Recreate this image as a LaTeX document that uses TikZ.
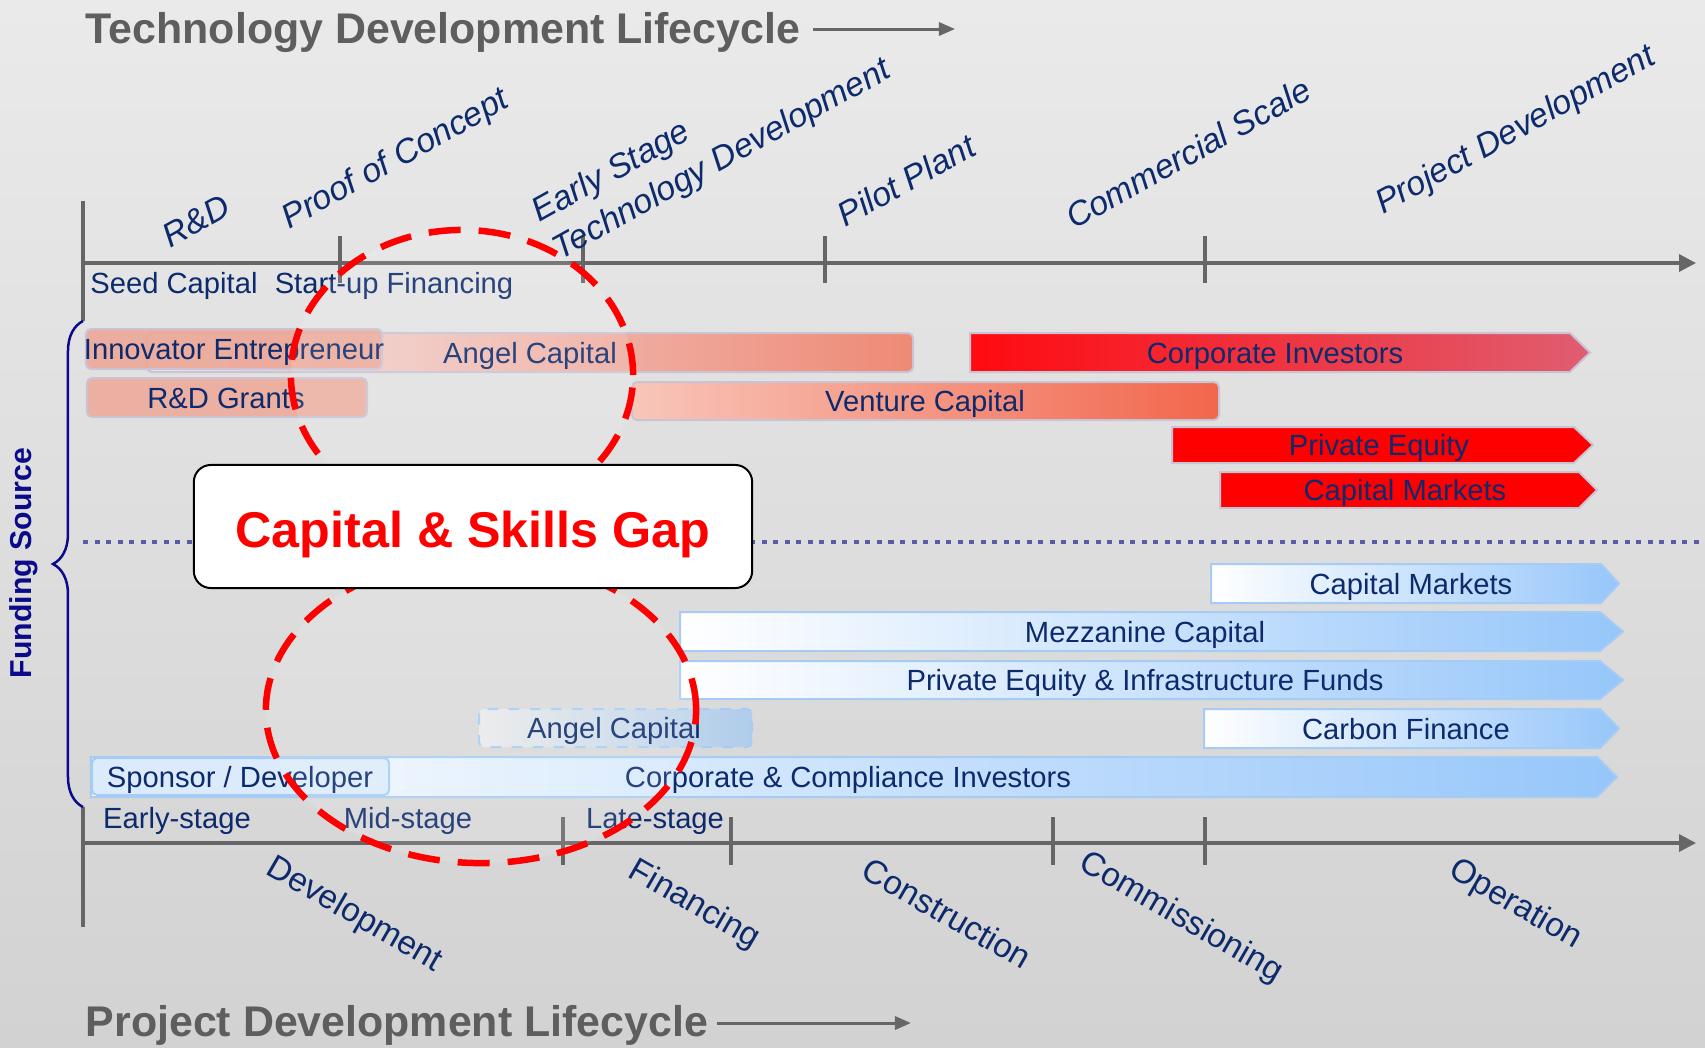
\documentclass[tikz,border=0pt]{standalone}
\usepackage{fontspec}
\setmainfont{Liberation Sans}
\usepackage{tikz}
\usetikzlibrary{
	decorations.pathreplacing,		% Curly brace along the funding sources
	positioning,					% Relative positioning
	shapes.geometric,				% Ellipses marking the gap
	arrows.meta,					% Advanced arrows
	calc							% Calculate point coordinates
}
\definecolor{navytext}{HTML}{0C2A6C}
\definecolor{axisgray}{HTML}{666666}
\definecolor{titlegray}{HTML}{5E5E5E}
\definecolor{bgtop}{HTML}{EAEAEA}
\definecolor{bgbottom}{HTML}{D2D2D2}
\definecolor{salmon}{HTML}{EBA898}
\definecolor{salmongrant}{HTML}{EBB0A2}
\definecolor{salmondark}{HTML}{EE8A76}
\definecolor{pinklight}{HTML}{F2E4E4}
\definecolor{venturelight}{HTML}{F8C6BA}
\definecolor{venturedark}{HTML}{F2664C}
\definecolor{corpred}{HTML}{FF0A10}
\definecolor{corppink}{HTML}{DF5E70}
\definecolor{barred}{HTML}{FF0000}
\definecolor{redborder}{HTML}{C9C3D3}
\definecolor{bluedark}{HTML}{96C6FA}
\definecolor{blueborder}{HTML}{A6CCF4}
\definecolor{sponsorblue}{HTML}{DCEBFB}
\definecolor{angelgray}{HTML}{EAEAEA}
\definecolor{angelblue}{HTML}{B0CDEB}
\definecolor{gapred}{HTML}{FF0000}
\definecolor{bracenavy}{HTML}{0B0B8A}
\definecolor{dotblue}{HTML}{5A5AA6}

\begin{document}
\begin{tikzpicture}[x=0.01cm, y=-0.01cm]
		\tikzstyle{axisline} = [draw=axisgray, line width=0.034cm]
		\tikzstyle{axisarrow} = [axisline, -{Triangle[length=0.17cm, width=0.17cm]}]
		\tikzstyle{titletext} = [inner sep=0, text=titlegray, font=\fontsize{12.2}{14}\selectfont\bfseries]
		\tikzstyle{titlearrow} = [draw=axisgray, line width=0.03cm, -{Triangle[length=0.16cm, width=0.13cm]}]
		\tikzstyle{stagetext} = [inner sep=0, text=navytext, font=\fontsize{9.6}{12.2}\selectfont\itshape, rotate=29]
		\tikzstyle{phasetext} = [inner sep=0, text=navytext, font=\fontsize{9.5}{11}\selectfont, rotate=-30]
		\tikzstyle{bartext} = [inner sep=0, text=navytext, font=\fontsize{8.3}{10}\selectfont, text height=6pt, text depth=1.7pt]
		\tikzstyle{redbar} = [draw=redborder, line width=0.02cm]
		\tikzstyle{bluebar} = [draw=blueborder, line width=0.02cm, left color=white, right color=bluedark]
		\tikzstyle{gapring} = [ellipse, draw=gapred, line width=0.065cm, dash pattern=on 0.32cm off 0.18cm, fill=white, fill opacity=0.12, inner sep=0]
		\tikzstyle{gapbox} = [draw=black, fill=white, rounded corners=0.17cm, line width=0.02cm, minimum width=5.58cm, minimum height=1.23cm, inner sep=0, text=gapred, font=\fontsize{14.3}{16}\selectfont\bfseries, text height=11.7pt, text depth=0pt]
		
		% Background
		\useasboundingbox (0,0) rectangle (1705,1047);
		\shade[top color=bgtop, bottom color=bgbottom] (0,0) rectangle (1705,1047);
		
		% Technology axis
		\coordinate (techCorner) at (83,201);
		\coordinate (fundTop) at (83,321);
		\coordinate (techStart) at (83,263);
		\coordinate (techEnd) at (1696,263);
		\draw[axisline] (techCorner) -- (fundTop);
		\draw[axisarrow] (techStart) -- (techEnd);
		\foreach \tx in {340, 583, 825, 1205}{
			\draw[axisline] (\tx,236) -- (\tx,283);
		}
		%% Title
		\node[titletext, anchor=base west] (techTitle) at (85,43) {Technology Development Lifecycle};
		\coordinate (techArrowEnd) at (955,29);
		\draw[titlearrow, shorten <=0.12cm] (techTitle.east |- techArrowEnd) -- (techArrowEnd);
		%% Stages
		\node[stagetext] (stageRD) at (196,221) {R\&D};
		\node[stagetext] (stageProof) at (396,160) {Proof of Concept};
		\node[stagetext, align=left] (stageEarly) at (712,142) {Early Stage\\Technology Development};
		\node[stagetext] (stagePilot) at (906,180) {Pilot Plant};
		\node[stagetext] (stageCommercial) at (1188,153) {Commercial Scale};
		\node[stagetext] (stageProject) at (1516,131) {Project Development};
		%% Financing rounds
		\node[bartext] (seedCapital) at (174,286) {Seed Capital};
		\node[bartext] (startupFin) at (394,286) {Start-up Financing};
		
		% Project axis
		\coordinate (fundBottom) at (83,807);
		\coordinate (projCorner) at (83,927);
		\coordinate (projStart) at (83,843);
		\coordinate (projEnd) at (1696,843);
		\draw[axisline] (fundBottom) -- (projCorner);
		\draw[axisarrow] (projStart) -- (projEnd);
		\foreach \tx in {563, 731, 1053, 1205}{
			\draw[axisline] (\tx,817) -- (\tx,865);
		}
		%% Title
		\node[titletext, anchor=base west] (projTitle) at (85,1036) {Project Development Lifecycle};
		\coordinate (projArrowEnd) at (911,1023);
		\draw[titlearrow, shorten <=0.08cm] (projTitle.east |- projArrowEnd) -- (projArrowEnd);
		%% Phases
		\node[phasetext] (phaseDev) at (354,915) {Development};
		\node[phasetext] (phaseFin) at (694,905) {Financing};
		\node[phasetext] (phaseCons) at (947,913) {Construction};
		\node[phasetext] (phaseComm) at (1181,918) {Commissioning};
		\node[phasetext] (phaseOp) at (1515,905) {Operation};
		%% Stage of the project
		\node[bartext] (earlyStage) at (177,821) {Early-stage};
		\node[bartext] (midStage) at (408,821) {Mid-stage};
		\node[bartext] (lateStage) at (655,821) {Late-stage};
		
		% Technology funding (red)
		\path[redbar, rounded corners=0.05cm, left color=pinklight, right color=salmondark] (147,333) rectangle (913,372);
		\node[bartext] (angelTop) at (530,356) {Angel Capital};
		\path[redbar, rounded corners=0.05cm, fill=salmon, fill opacity=0.9] (86,329) rectangle (382,369);
		\node[bartext] (innovator) at (234,352) {Innovator Entrepreneur};
		\path[redbar, rounded corners=0.05cm, fill=salmongrant] (87,378) rectangle (367,417);
		\node[bartext] (rdGrants) at (226,401) {R\&D Grants};
		\path[redbar, rounded corners=0.05cm, left color=venturelight, right color=venturedark] (632,382) rectangle (1219,420);
		\node[bartext] (venture) at (925,404) {Venture Capital};
		\path[redbar, left color=corpred, right color=corppink] (970,333) -- (1570,333) -- (1590,352.5) -- (1570,372) -- (970,372) -- cycle;
		\node[bartext] (corpInvestors) at (1275,356) {Corporate Investors};
		\foreach \xa/\xb/\xc/\ya/\yb/\xl/\nm/\txt in {1172/1574/1593/427/463/1379/privateEquity/Private Equity, 1220/1579/1597/472/508/1405/capMarketsTop/Capital Markets}{
			\path[redbar, fill=barred] (\xa,\ya) -- (\xb,\ya) -- (\xc,{(\ya+\yb)/2}) -- (\xb,\yb) -- (\xa,\yb) -- cycle;
			\node[bartext] (\nm) at (\xl,{(\ya+\yb)/2+3}) {\txt};
		}
		
		% Divider
		\coordinate (dividerLeft) at (83,542);
		\coordinate (dividerRight) at (1705,542);
		\draw[dotblue, line width=0.035cm, dash pattern=on 0.05cm off 0.065cm] (dividerLeft) -- (dividerRight);
		
		% Project funding (blue)
		\foreach \xa/\xb/\xc/\ya/\yb/\xl/\nm/\txt in {1211/1601/1619/564/603/1411/capMarkets/Capital Markets, 680/1600/1623/612/651/1145/mezzanine/Mezzanine Capital, 680/1600/1623/661/699/1145/peInfra/Private Equity \& Infrastructure Funds, 1204/1600/1619/709/748/1406/carbon/Carbon Finance, 91/1597/1617/757/797/848/corpCompliance/Corporate \& Compliance Investors}{
			\path[bluebar] (\xa,\ya) -- (\xb,\ya) -- (\xc,{(\ya+\yb)/2}) -- (\xb,\yb) -- (\xa,\yb) -- cycle;
			\node[bartext] (\nm) at (\xl,{(\ya+\yb)/2+3}) {\txt};
		}
		\path[draw=blueborder, line width=0.02cm, rounded corners=0.05cm, fill=sponsorblue] (92,758) rectangle (389,795);
		\node[bartext] (sponsor) at (240,780) {Sponsor / Developer};
		\path[draw=blueborder, line width=0.02cm, dashed, rounded corners=0.05cm, left color=angelgray, right color=angelblue] (479,709) rectangle (752,747);
		\node[bartext] (angelLow) at (614,731) {Angel Capital};
		
		% Funding source
		\draw[bracenavy, line width=0.025cm, decorate, decoration={brace, amplitude=0.3cm}] (fundBottom) -- (fundTop);
		\node[inner sep=0, text=bracenavy, font=\fontsize{8.6}{10}\selectfont\bfseries, rotate=90] (fundLabel) at (24,563) {Funding Source};
		
		% Capital and skills gap
		\node[gapring, minimum width=3.42cm, minimum height=2.9cm] (upperRing) at (462,375) {};
		\node[gapring, minimum width=4.3cm, minimum height=3.06cm] (lowerRing) at (481,710) {};
		\node[gapbox] (gapBox) at (473,526.5) {Capital \& Skills Gap};
	\end{tikzpicture}
\end{document}
